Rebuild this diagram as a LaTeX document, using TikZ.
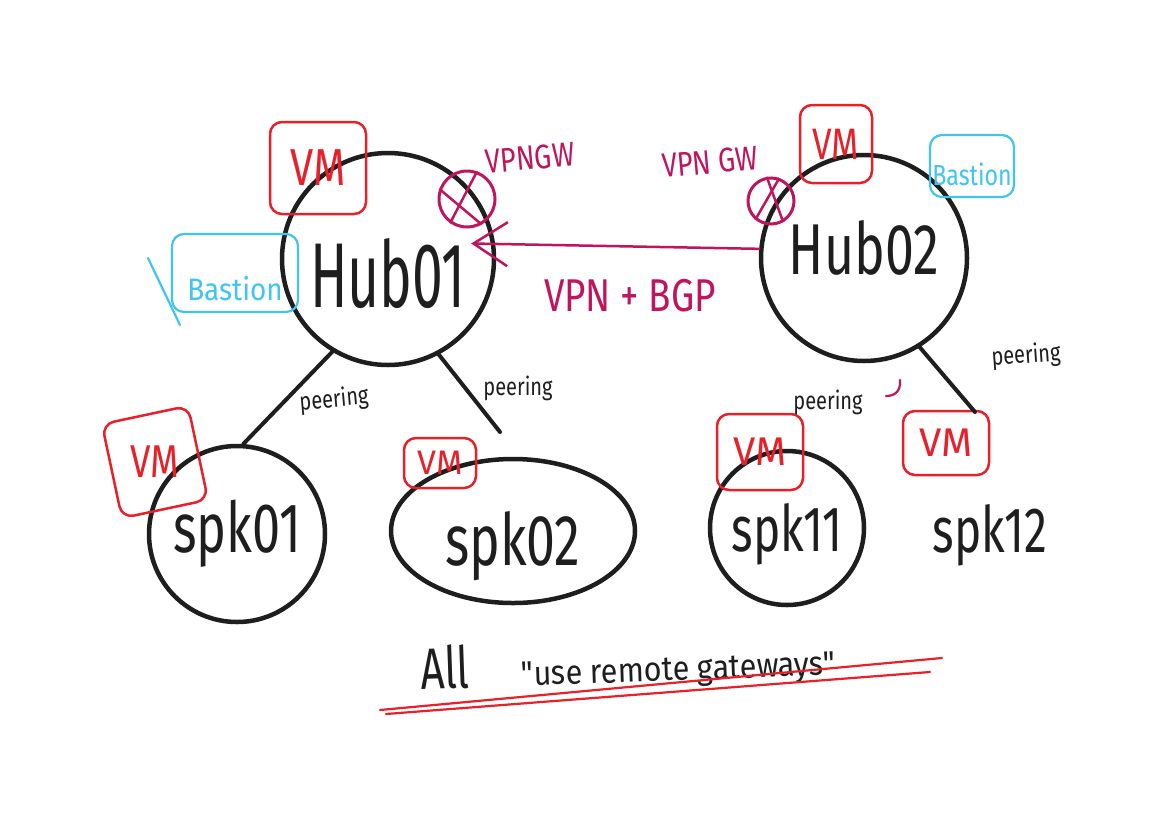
\documentclass[tikz,border=0pt]{standalone}
\usepackage{fontspec}
\usepackage{graphicx}
\setmainfont{Fira Sans}
\newfontfamily\hsix[FakeStretch=0.6]{Fira Sans}
\newfontfamily\hseven[FakeStretch=0.72]{Fira Sans}
\newfontfamily\height[FakeStretch=0.8]{Fira Sans}
\newfontfamily\hnine[FakeStretch=0.9]{Fira Sans}
\usetikzlibrary{shapes.geometric,arrows.meta,calc}
\definecolor{ink}{HTML}{1E1E1E}
\definecolor{vmred}{HTML}{E8202A}
\definecolor{bastcyan}{HTML}{40C4F0}
\definecolor{gwmag}{HTML}{C0145C}
\newcommand{\fs}[1]{\fontsize{#1}{#1}\selectfont}
\begin{document}
\begin{tikzpicture}[x=1pt,y=-1pt,
  hub/.style={draw=ink, line width=4.5pt, circle, inner sep=0pt, text=ink},
  vmbox/.style={draw=vmred, line width=2.5pt, rounded corners=12pt, inner sep=0pt, text=vmred},
  bastbox/.style={draw=bastcyan, line width=2.2pt, rounded corners=12pt, inner sep=0pt, text=bastcyan},
  gw/.style={draw=gwmag, line width=3pt, circle, inner sep=0pt},
  gwtext/.style={text=gwmag, inner sep=0pt},
  peerline/.style={draw=ink, line width=4pt, line cap=round},
  peertext/.style={text=ink, inner sep=0pt, font=\height\fs{25}},
  vpnline/.style={draw=gwmag, line width=2.5pt, line cap=round},
  underl/.style={draw=vmred, line width=2.2pt, line cap=round}
]
\useasboundingbox (0,0) rectangle (1175,815);
\fill[white] (0,0) rectangle (1175,815);

% hubs
\node[hub, minimum size=212pt, text height=98pt, font=\hsix\fs{92}] (hub1) at (388,259) {Hub01};
\node[hub, minimum size=206pt, text depth=22pt, font=\hseven\fs{72}] (hub2) at (864,258) {Hub02};

% spokes
\node[hub, minimum size=176pt, font=\hseven\fs{70}] (spk1) at (237,534) {spk01};
\node[hub, ellipse, minimum width=244pt, minimum height=144pt, text height=85pt, font=\hseven\fs{72}] (spk2) at (513,531) {spk02};
\node[hub, minimum size=154pt, text height=60pt, font=\hseven\fs{64}] (spk11) at (787,528) {spk11};
\node[text=ink, inner sep=0pt, font=\hseven\fs{64}] (spk12) at (990,535) {spk12};

% VM boxes
\node[vmbox, minimum width=96pt, minimum height=92pt, font=\height\fs{52}] (vm1) at (318,168) {VM};
\node[vmbox, minimum width=72pt, minimum height=78pt, font=\height\fs{44}] (vm2) at (836,144) {VM};
\node[vmbox, minimum width=88pt, minimum height=96pt, rotate=12, font=\height\fs{46}] (vm3) at (155,462) {\rotatebox{-12}{VM}};
\node[vmbox, minimum width=72pt, minimum height=50pt, font=\fs{34}] (vm4) at (440,463) {VM};
\node[vmbox, minimum width=86pt, minimum height=76pt, font=\fs{40}] (vm5) at (760,452) {VM};
\node[vmbox, minimum width=86pt, minimum height=64pt, font=\fs{40}] (vm6) at (946,443) {VM};

% Bastion boxes
\node[bastbox, minimum width=126pt, minimum height=78pt, text height=56pt, font=\hnine\fs{31}] (b1) at (235,273) {Bastion};
\coordinate (b1l1) at (148,258);
\coordinate (b1l2) at (180,325);
\draw[draw=bastcyan, line width=2.2pt, line cap=round] (b1l1) -- (b1l2);
\node[bastbox, minimum width=84pt, minimum height=62pt, text height=40pt, font=\height\fs{29}] (b2) at (972,166) {Bastion};

% VPN gateways
\node[gw, minimum size=56pt] (gw1) at (467,199) {};
\draw[gwmag, line width=2.5pt] (gw1.70) -- (gw1.235);
\draw[gwmag, line width=2.5pt] (gw1.160) -- (gw1.300);
\node[gwtext, rotate=5, font=\height\fs{34}] (gw1t) at (530,158) {VPNGW};
\node[gw, minimum size=46pt] (gw2) at (771,201) {};
\draw[gwmag, line width=2.5pt] (gw2.100) -- (gw2.300);
\draw[gwmag, line width=2.5pt] (gw2.70) -- (gw2.230);
\node[gwtext, rotate=5, font=\height\fs{34}] (gw2t) at (710,162) {VPN GW};

% VPN + BGP connector
\draw[vpnline, {Straight Barb[length=34pt,width=44pt,line width=2.5pt]}-, shorten <=-24pt] (hub1.8) -- (hub2.175);
\node[gwtext, font=\height\fs{46}] (vpnt) at (630,296) {VPN + BGP};
\coordinate (hk1) at (900,380);
\coordinate (hk2) at (886,396);
\draw[gwmag, line width=2.2pt, line cap=round] (hk1) .. controls (901,392) and (894,396) .. (hk2);

% peering
\draw[peerline] (hub1.239) -- (spk1.86);
\node[peertext, rotate=5] (p1) at (334,400) {peering};
\coordinate (pe2) at (500,432);
\draw[peerline] (hub1.-62) -- (pe2);
\node[peertext] (p2) at (518,388) {peering};
\node[peertext] (p3) at (828,402) {peering};
\coordinate (pe4) at (975,412);
\draw[peerline] (hub2.-58) -- (pe4);
\node[peertext, rotate=4] (p4) at (1026,356) {peering};

% bottom note
\node[text=ink, inner sep=0pt, rotate=2] (note) at (628,664) {{\hseven\fs{58}All}\hspace{52pt}{\hnine\fs{34}"use remote gateways"}};
\coordinate (u1) at (380,710);
\coordinate (u2) at (942,658);
\coordinate (u3) at (386,714);
\coordinate (u4) at (930,672);
\draw[underl] (u1) -- (u2);
\draw[underl] (u3) -- (u4);
\end{tikzpicture}
\end{document}
